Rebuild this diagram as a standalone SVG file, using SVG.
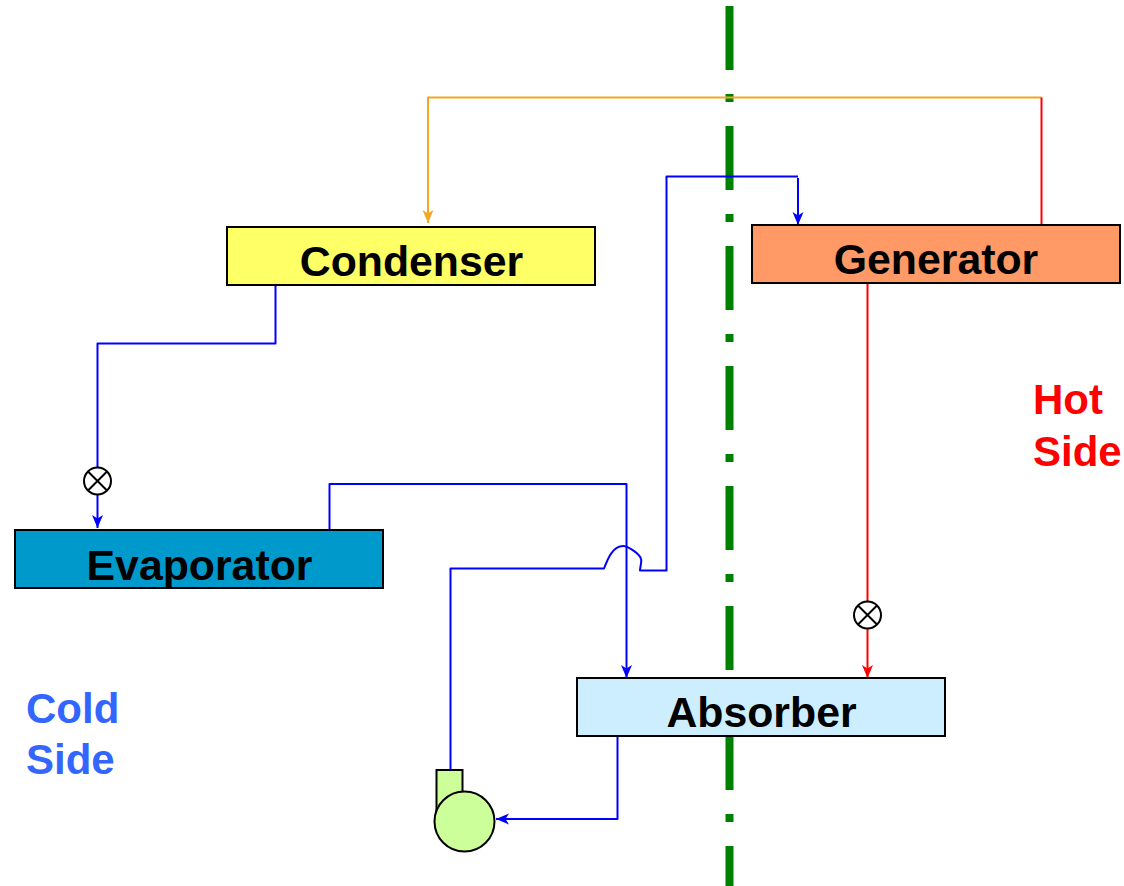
<svg xmlns="http://www.w3.org/2000/svg" width="1124" height="886" viewBox="0 0 1124 886">
<style>
.box{stroke:#000;stroke-width:2}
.lbl{font-family:"Liberation Sans",Arial,sans-serif;font-weight:700;font-size:42.800px;fill:#000;text-anchor:middle}
.side{font-family:"Liberation Sans",Arial,sans-serif;font-weight:700;font-size:42px}
.c{fill:none;stroke-width:2;stroke-linejoin:round}
.b{stroke:#0000ff}.r{stroke:#ff0000}.o{stroke:#f5a623}
.v{fill:#fff;stroke:#000;stroke-width:2}
.vx{stroke:#000;stroke-width:2}
</style>
<defs>
<marker id="ab" markerUnits="userSpaceOnUse" markerWidth="14" markerHeight="14" refX="13" refY="7" orient="auto"><path d="M0,1.500L13,7L0,12.500L3.500,7Z" fill="#0000ff"/></marker>
<marker id="ar" markerUnits="userSpaceOnUse" markerWidth="14" markerHeight="14" refX="13" refY="7" orient="auto"><path d="M0,1.500L13,7L0,12.500L3.500,7Z" fill="#ff0000"/></marker>
<marker id="ao" markerUnits="userSpaceOnUse" markerWidth="14" markerHeight="14" refX="13" refY="7" orient="auto"><path d="M0,1.500L13,7L0,12.500L3.500,7Z" fill="#f5a623"/></marker>
</defs>
<g id="centerline"><path d="M729.500,6V886" fill="none" stroke="#008000" stroke-width="8" stroke-dasharray="64 24 8 24"/></g>
<g id="connectors">
<path class="c o" d="M1041.500,97.500H428V223" marker-end="url(#ao)"/>
<path class="c r" d="M1041.500,97.500V225"/>
<path class="c b" d="M275.500,286V343.500H97.500V528" marker-end="url(#ab)"/>
<path class="c b" d="M329.500,530V484H626.500V678" marker-end="url(#ab)"/>
<path class="c b" d="M450.500,770V568.500H604C608,558 613,546 623,546C628,546 640,554 641,559C642,563 640,566 640,570.500H666.500V176.500H798" />
<path class="c b" d="M798,178V225" marker-end="url(#ab)"/>
<path class="c r" d="M867.500,284V678" marker-end="url(#ar)"/>
<path class="c b" d="M617.500,736V819H496" marker-end="url(#ab)"/>
</g>
<g id="condenser"><rect class="box" x="227" y="227" width="368" height="58" fill="#ffff66"/><text class="lbl" x="411.500" y="276">Condenser</text></g>
<g id="generator"><rect class="box" x="752" y="225" width="368" height="58" fill="#ff9966"/><text class="lbl" x="936" y="274">Generator</text></g>
<g id="evaporator"><rect class="box" x="15" y="530" width="368" height="58" fill="#0099cc"/><text class="lbl" x="199.500" y="580">Evaporator</text></g>
<g id="absorber"><rect class="box" x="577" y="678" width="368" height="58" fill="#cceeff"/><text class="lbl" x="761.500" y="727">Absorber</text></g>
<g id="valve-cold"><circle class="v" cx="97.500" cy="481" r="13.500"/><path class="vx" d="M88,471.500L107,490.500M107,471.500L88,490.500"/></g>
<g id="valve-hot"><circle class="v" cx="867.500" cy="615" r="13.500"/><path class="vx" d="M858,605.500L877,624.500M877,605.500L858,624.500"/></g>
<g id="pump"><rect class="box" x="436.500" y="770" width="26" height="40" fill="#ccff99"/><circle class="box" cx="464.500" cy="821.500" r="30" fill="#ccff99"/></g>
<g id="hot-side"><text class="side" fill="#ff0000" x="1033" y="414">Hot</text><text class="side" fill="#ff0000" x="1033" y="466">Side</text></g>
<g id="cold-side"><text class="side" fill="#3366ff" x="26" y="723">Cold</text><text class="side" fill="#3366ff" x="26" y="774">Side</text></g>
</svg>
